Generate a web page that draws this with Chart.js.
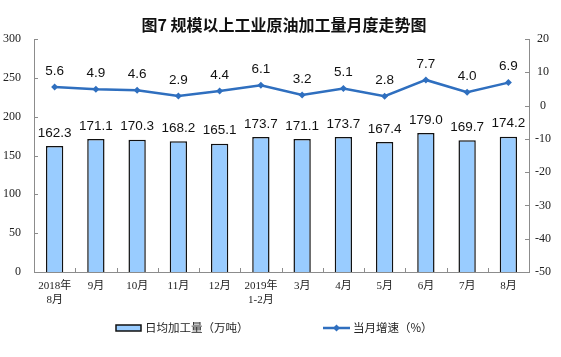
<!DOCTYPE html>
<html>
<head>
<meta charset="utf-8">
<script src="https://cdn.jsdelivr.net/npm/chart.js@4/dist/chart.umd.min.js"></script>
<style>
html,body{margin:0;padding:0;background:#fff;}
canvas{display:block;}
</style>
</head>
<body>
<canvas id="c" width="561" height="357"></canvas>
<script>
const categories = [['2018年','8月'],'9月','10月','11月','12月',['2019年','1-2月'],'3月','4月','5月','6月','7月','8月'];
const dailyOutput = [162.3,171.1,170.3,168.2,165.1,173.7,171.1,173.7,167.4,179.0,169.7,174.2];
const monthlyGrowth = [5.6,4.9,4.6,2.9,4.4,6.1,3.2,5.1,2.8,7.7,4.0,6.9];
const leftTicks = [0,50,100,150,200,250,300];
const rightTicks = [-50,-40,-30,-20,-10,0,10,20];
const titleText = '图7 规模以上工业原油加工量月度走势图';
const barLegend = '日均加工量（万吨）';
const lineLegend = '当月增速（%）';

const BAR_FILL = '#99CCFF';
const LINE_COL = '#2f6fbf';
const AXIS_COL = '#8c8c8c';
const CJK = '"Noto Sans CJK SC", "Liberation Sans", sans-serif';
const SERIF = '"Liberation Serif", "Noto Sans CJK SC", serif';
const SANS = '"Liberation Sans", Arial, sans-serif';

const decor = {
  id: 'decor',
  afterDraw(chart) {
    const ctx = chart.ctx;
    const ca = chart.chartArea;
    const y = chart.scales.y, y1 = chart.scales.y1, x = chart.scales.x;
    ctx.save();
    // inward tick marks
    ctx.strokeStyle = AXIS_COL;
    ctx.lineWidth = 1;
    ctx.beginPath();
    leftTicks.forEach(v => {
      const py = Math.round(y.getPixelForValue(v)) + 0.5;
      ctx.moveTo(ca.left, py); ctx.lineTo(ca.left + 4, py);
    });
    rightTicks.forEach(v => {
      const py = Math.round(y1.getPixelForValue(v)) + 0.5;
      ctx.moveTo(ca.right - 4, py); ctx.lineTo(ca.right, py);
    });
    const n = categories.length;
    for (let i = 1; i < n; i++) {
      const px = Math.round((x.getPixelForValue(i - 1) + x.getPixelForValue(i)) / 2) + 0.5;
      ctx.moveTo(px, ca.bottom); ctx.lineTo(px, ca.bottom - 4);
    }
    ctx.stroke();

    // data labels
    ctx.fillStyle = '#111';
    ctx.font = '13.5px ' + SANS;
    ctx.textAlign = 'center';
    ctx.textBaseline = 'middle';
    const lineMeta = chart.getDatasetMeta(0);
    const barMeta = chart.getDatasetMeta(1);
    barMeta.data.forEach((el, i) => {
      ctx.fillText(dailyOutput[i].toFixed(1), el.x, el.y - 13);
    });
    lineMeta.data.forEach((el, i) => {
      ctx.fillText(monthlyGrowth[i].toFixed(1), el.x, el.y - 16);
    });

    // title
    ctx.fillStyle = '#111';
    ctx.font = 'bold 16px ' + CJK;
    ctx.fillText(titleText, 284, 25);

    // legend
    const ly = 328;
    ctx.fillStyle = BAR_FILL;
    ctx.strokeStyle = '#111';
    ctx.lineWidth = 1.5;
    ctx.fillRect(116, ly - 3, 25, 6);
    ctx.strokeRect(116, ly - 3, 25, 6);
    ctx.fillStyle = '#222';
    ctx.font = '11.5px ' + CJK;
    ctx.textAlign = 'left';
    ctx.fillText(barLegend, 145, ly);

    ctx.strokeStyle = LINE_COL;
    ctx.lineWidth = 2.5;
    ctx.beginPath();
    ctx.moveTo(323, ly); ctx.lineTo(350, ly);
    ctx.stroke();
    ctx.fillStyle = LINE_COL;
    ctx.beginPath();
    ctx.moveTo(336.5, ly - 3.5); ctx.lineTo(340, ly); ctx.lineTo(336.5, ly + 3.5); ctx.lineTo(333, ly);
    ctx.closePath(); ctx.fill();
    ctx.fillStyle = '#222';
    ctx.fillText(lineLegend, 353, ly);
    ctx.restore();
  }
};

new Chart(document.getElementById('c'), {
  type: 'bar',
  data: {
    labels: categories,
    datasets: [
      {
        type: 'line',
        label: lineLegend,
        data: monthlyGrowth,
        yAxisID: 'y1',
        borderColor: LINE_COL,
        backgroundColor: LINE_COL,
        borderWidth: 2.5,
        pointStyle: 'rectRot',
        pointRadius: 3.5,
        pointBorderWidth: 0,
        tension: 0,
        order: 1
      },
      {
        type: 'bar',
        label: barLegend,
        data: dailyOutput,
        yAxisID: 'y',
        backgroundColor: BAR_FILL,
        borderColor: '#111',
        borderWidth: 1.5,
        categoryPercentage: 1,
        barPercentage: 0.42,
        order: 2
      }
    ]
  },
  options: {
    responsive: false,
    animation: false,
    devicePixelRatio: 1,
    layout: { padding: { top: 39, left: 0, right: 0, bottom: 0 } },
    plugins: { legend: { display: false }, title: { display: false }, tooltip: { enabled: false } },
    scales: {
      x: {
        grid: { display: false, drawTicks: false },
        border: { display: true, color: AXIS_COL, width: 1 },
        ticks: { color: '#222', font: { family: SERIF, size: 11, lineHeight: '14px' }, padding: 7, maxRotation: 0, autoSkip: false },
        afterFit(s) { s.height = 85; }
      },
      y: {
        position: 'left',
        min: 0, max: 300,
        afterBuildTicks(s) { s.ticks = leftTicks.map(v => ({ value: v })); },
        grid: { display: false, drawTicks: false },
        border: { display: true, color: AXIS_COL, width: 1 },
        ticks: { color: '#222', font: { family: SERIF, size: 12 }, padding: 13 },
        afterFit(s) { s.width = 34; }
      },
      y1: {
        position: 'right',
        min: -50, max: 20,
        afterBuildTicks(s) { s.ticks = rightTicks.map(v => ({ value: v })); },
        grid: { display: false, drawTicks: false },
        border: { display: true, color: AXIS_COL, width: 1 },
        ticks: { color: '#222', font: { family: SERIF, size: 12 }, padding: 6, crossAlign: 'center' },
        afterFit(s) { s.width = 32; }
      }
    }
  },
  plugins: [decor]
});
</script>
</body>
</html>
